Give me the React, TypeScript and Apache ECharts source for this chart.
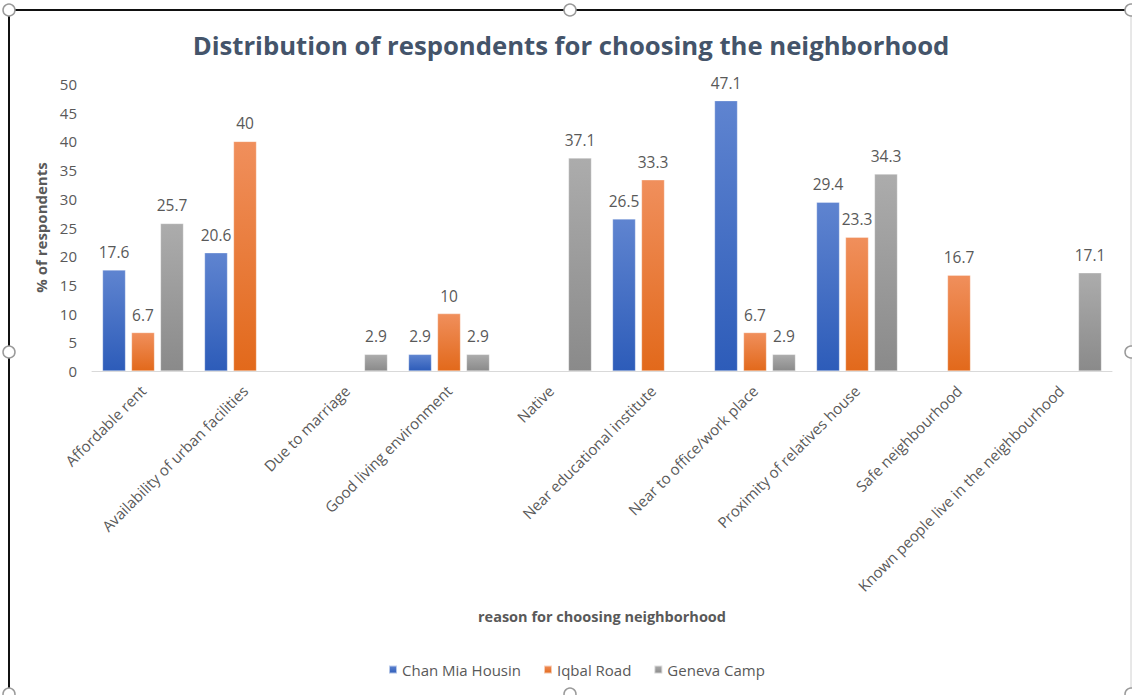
import React, { useEffect, useRef } from "react";
import * as echarts from "echarts";

const categories = [
  "Affordable rent",
  "Availability of urban facilities",
  "Due to marriage",
  "Good living environment",
  "Native",
  "Near educational institute",
  "Near to office/work place",
  "Proximity of relatives house",
  "Safe neighbourhood",
  "Known people live in the neighbourhood",
];
const chanMia = [17.6, 20.6, null, 2.9, null, 26.5, 47.1, 29.4, null, null];
const iqbalRoad = [6.7, 40, null, 10, null, 33.3, 6.7, 23.3, 16.7, null];
const genevaCamp = [25.7, null, 2.9, 2.9, 37.1, null, 2.9, 34.3, null, 17.1];
const seriesNames = ["Chan Mia Housin", "Iqbal Road", "Geneva Camp"];

const FONT = "'Open Sans', 'Noto Sans', sans-serif";
const TXT = "#595959";

function grad(top: string, bottom: string) {
  return new echarts.graphic.LinearGradient(0, 0, 0, 1, [
    { offset: 0, color: top },
    { offset: 1, color: bottom },
  ]);
}

export default function App() {
  const ref = useRef<HTMLDivElement>(null);
  useEffect(() => {
    if (!ref.current) return;
    const chart = echarts.init(ref.current, undefined, { renderer: "svg" });
    const mk = (name: string, data: (number | null)[], top: string, bottom: string, legendColor: string) => ({
      name,
      type: "bar",
      data,
      barWidth: 23,
      barGap: "26%",
      color: legendColor,
      itemStyle: { color: grad(top, bottom), borderColor: "rgba(255,255,255,0.6)", borderWidth: 0.5 },
      label: {
        show: true,
        position: "top",
        distance: 10,
        color: TXT,
        fontFamily: FONT,
        fontSize: 15.5,
      },
    });
    const handle = (x: number, y: number) => ({
      type: "circle",
      shape: { cx: x, cy: y, r: 6 },
      style: { fill: "#fff", stroke: "#9a9a9a", lineWidth: 1.5 },
      z: 10,
    });
    chart.setOption({
      animation: false,
      backgroundColor: "#fff",
      title: {
        text: "Distribution of respondents for choosing the neighborhood",
        left: 566,
        textAlign: "center",
        top: 27,
        textStyle: { fontFamily: FONT, fontSize: 25.7, fontWeight: "bold", color: "#44546a" },
      },
      legend: {
        data: seriesNames,
        left: 383,
        top: 657,
        orient: "horizontal",
        icon: "rect",
        itemWidth: 8,
        itemHeight: 8,
        itemGap: 22,
        textStyle: { fontFamily: FONT, fontSize: 15, color: TXT },
      },
      grid: { left: 92, right: 20, top: 84, bottom: 324, containLabel: false },
      xAxis: {
        type: "category",
        data: categories,
        axisLine: { lineStyle: { color: "#d9d9d9", width: 1 } },
        axisTick: { show: false },
        axisLabel: {
          rotate: 45,
          interval: 0,
          color: TXT,
          fontFamily: FONT,
          fontSize: 15,
          margin: 17,
        },
        name: "reason for choosing neighborhood",
        nameLocation: "middle",
        nameGap: 238,
        nameTextStyle: { fontFamily: FONT, fontSize: 14.5, fontWeight: "bold", color: TXT },
      },
      yAxis: {
        type: "value",
        min: 0,
        max: 50,
        interval: 5,
        splitLine: { show: false },
        axisLine: { show: false },
        axisTick: { show: false },
        axisLabel: { color: TXT, fontFamily: FONT, fontSize: 15, margin: 15 },
        name: "% of respondents",
        nameLocation: "middle",
        nameGap: 42,
        nameRotate: 90,
        nameTextStyle: { fontFamily: FONT, fontSize: 15, fontWeight: "bold", color: TXT },
      },
      series: [
        mk(seriesNames[0], chanMia, "#5f84d0", "#2d5cb9", "#4472c4"),
        mk(seriesNames[1], iqbalRoad, "#f08f5c", "#e2691b", "#ed7d31"),
        mk(seriesNames[2], genevaCamp, "#acacac", "#8a8a8a", "#a5a5a5"),
      ],
      graphic: [
        { type: "line", shape: { x1: 9, y1: 10, x2: 1132, y2: 10 }, style: { stroke: "#111", lineWidth: 2 }, z: 9 },
        { type: "line", shape: { x1: 9, y1: 10, x2: 9, y2: 695 }, style: { stroke: "#111", lineWidth: 2 }, z: 9 },
        { type: "line", shape: { x1: 1131, y1: 14, x2: 1131, y2: 695 }, style: { stroke: "#d0d0d0", lineWidth: 1 }, z: 9 },
        handle(9, 10),
        handle(570, 10),
        handle(1131, 10),
        handle(9, 352),
        handle(1131, 352),
        handle(9, 694),
        handle(570, 694),
        handle(1131, 694),
      ],
    });
    return () => chart.dispose();
  }, []);
  return (
    <div
      ref={ref}
      style={{ position: "absolute", left: 0, top: 0, width: 1132, height: 695 }}
    />
  );
}
